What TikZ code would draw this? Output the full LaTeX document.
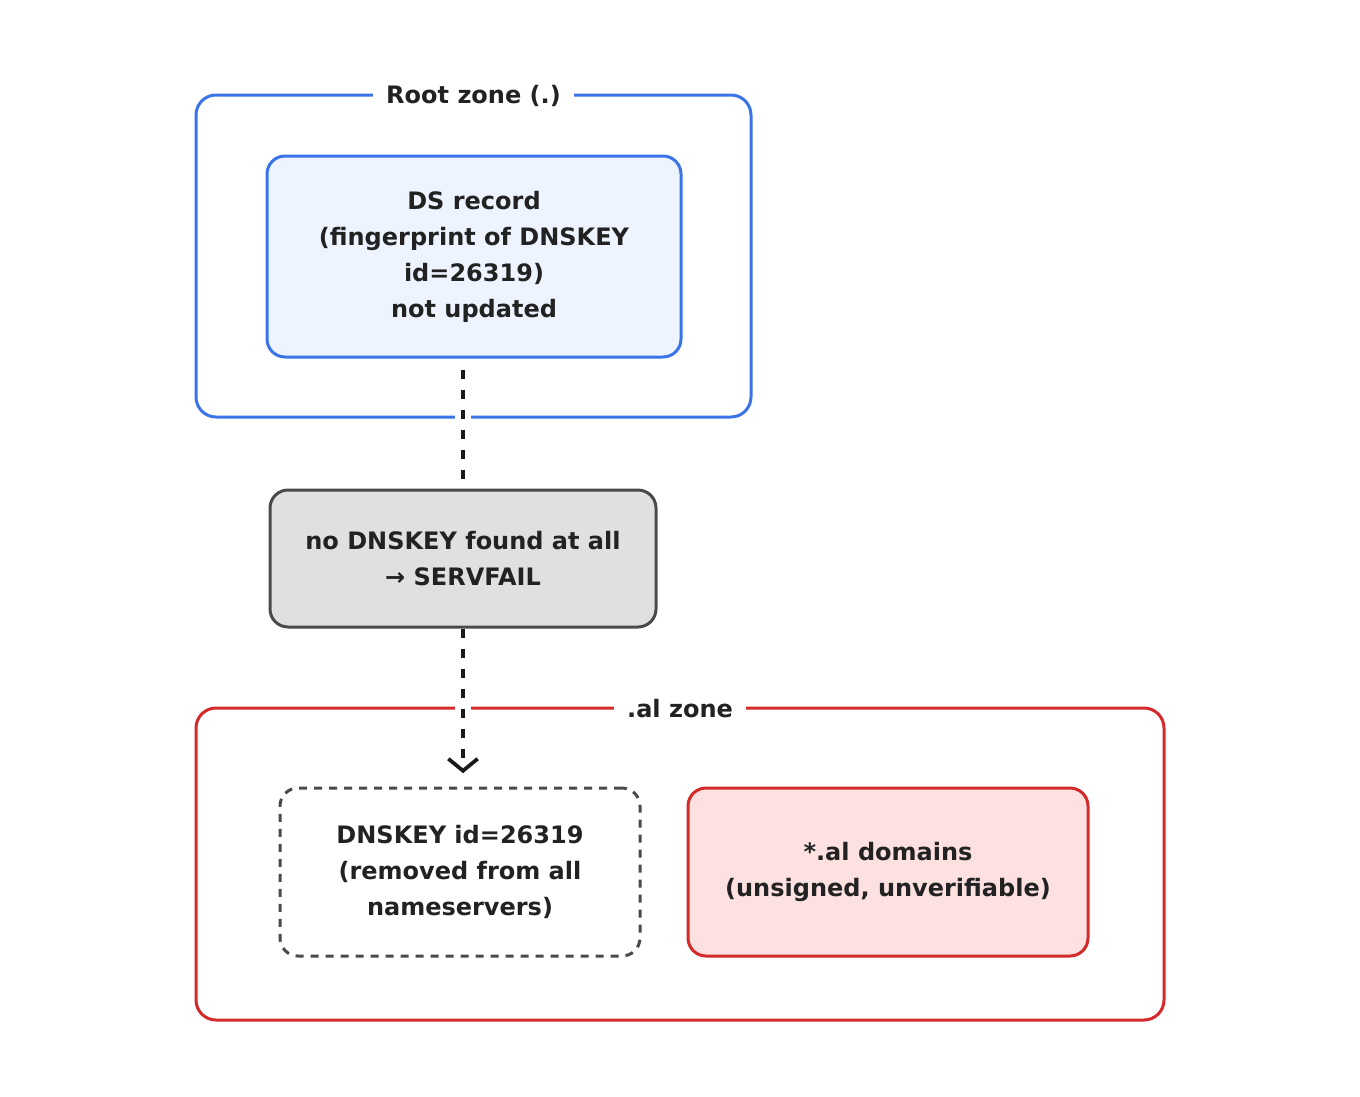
\documentclass[tikz,border=0pt]{standalone}
\usepackage{fontspec}
\setmainfont{DejaVu Sans}
\usetikzlibrary{arrows.meta,calc}
\definecolor{zblue}{HTML}{3B74E8}
\definecolor{lblue}{HTML}{EEF4FF}
\definecolor{zred}{HTML}{D42A2A}
\definecolor{lred}{HTML}{FDE0E0}
\definecolor{gfill}{HTML}{E0E0E0}
\definecolor{gline}{HTML}{4A4A4A}
\definecolor{txt}{HTML}{222222}
\tikzset{
  lbl/.style={font=\bfseries\fontsize{18pt}{27pt}\selectfont, text=txt, align=center},
  zone/.style={draw, line width=2.25pt, rounded corners=15pt, inner sep=0pt},
  box/.style={lbl, draw, line width=2.25pt, rounded corners=13.5pt, inner sep=0pt},
  ztitle/.style={lbl, fill=white, inner xsep=10pt, inner ysep=2pt, yshift=-1.5pt},
  conn/.style={line width=2.8pt, black!90, dash pattern=on 6.75pt off 8.25pt},
  gap/.style={white, line width=5pt},
}
\begin{document}
\begin{tikzpicture}[x=0.75pt,y=-0.75pt]
\useasboundingbox (0,0) rectangle (1360,1096);
% zones
\node[zone, draw=zblue, minimum width=416.25pt, minimum height=241.5pt] (root) at (473.5,256) {};
\node[zone, draw=zred, minimum width=726pt, minimum height=234pt] (al) at (680,864) {};
\node[ztitle] (roottitle) at (root.north) {Root zone (.)};
\node[ztitle] (altitle) at (al.north) {.al zone};
% boxes
\node[box, draw=zblue, fill=lblue, minimum width=310.5pt, minimum height=150.75pt] (ds) at (474,256.5)
  {DS record\\(fingerprint of DNSKEY\\id=26319)\\not updated};
\node[box, draw=gline, fill=gfill, minimum width=289.5pt, minimum height=102.75pt] (grey) at (463,558.5)
  {no DNSKEY found at all\\→ SERVFAIL};
\node[box, draw=gline, dash pattern=on 6pt off 5.25pt, fill=white, minimum width=270pt, minimum height=126pt] (dnskey) at (460,872)
  {DNSKEY id=26319\\(removed from all\\nameservers)};
\node[box, draw=zred, fill=lred, minimum width=300pt, minimum height=126pt] (dom) at (888,872)
  {*.al domains\\(unsigned, unverifiable)};
% gaps where connectors cross zone borders
\coordinate (x1) at (grey.north |- root.south);
\coordinate (x2) at (grey.north |- al.north);
\draw[gap] ($(x1)+(-8,0)$) -- ($(x1)+(8,0)$);
\draw[gap] ($(x2)+(-8,0)$) -- ($(x2)+(8,0)$);
% connectors
\coordinate (c1) at (grey.north |- ds.south);
\draw[conn, shorten <=8.25pt] (c1) -- (grey.north);
\coordinate (c2) at (grey.south |- dnskey.north);
\draw[conn, shorten >=10pt, -{Straight Barb[length=9pt,width=22pt]}] (grey.south) -- (c2);
\end{tikzpicture}
\end{document}
